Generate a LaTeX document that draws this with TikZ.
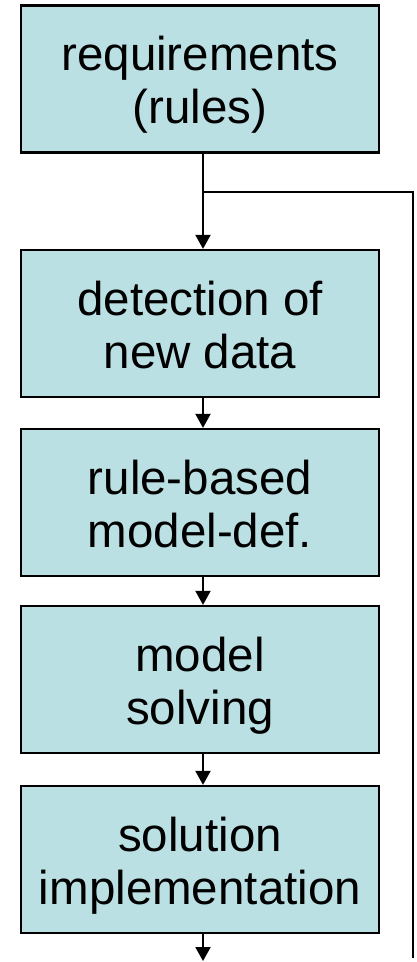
\documentclass[tikz,border=0pt]{standalone}
\usepackage{fontspec}
\setmainfont{Liberation Sans}
\usetikzlibrary{arrows.meta}
\definecolor{boxfill}{RGB}{187,224,227}
% two-line box label with fixed first-line height and last-line depth
\newcommand\twolines[2]{\rule{0pt}{48pt}#1\\#2\rule[-12pt]{0pt}{12pt}}
\begin{document}
\begin{tikzpicture}[x=1pt,y=-1pt,
  stage/.style={draw=black, line width=2.3pt, fill=boxfill, inner sep=0pt,
    minimum width=358pt, minimum height=147pt, align=center,
    font=\fontsize{47.5}{53}\selectfont},
  conn/.style={line width=2pt, draw=black, line join=miter},
  arr/.style={conn, -{Triangle[width=15pt,length=14pt]}}]
\useasboundingbox (0,0) rectangle (416,962);

\node[stage] (req)  at (200,79)    {\twolines{requirements}{(rules)}};
\node[stage] (det)  at (200,323.5) {\twolines{detection of}{new data}};
\node[stage] (rule) at (200,502.5) {\twolines{rule-based}{model-def.}};
\node[stage] (solv) at (200,679.5) {\twolines{model}{solving}};
\node[stage] (impl) at (200,859.5) {\twolines{solution}{implementation}};

% main flow
\draw[arr] ([xshift=3pt]req.south)  -- ([xshift=3pt]det.north);
\draw[arr] ([xshift=3pt]det.south)  -- ([xshift=3pt]rule.north);
\draw[arr] ([xshift=3pt]rule.south) -- ([xshift=3pt]solv.north);
\draw[arr] ([xshift=3pt]solv.south) -- ([xshift=3pt]impl.north);
\coordinate (out) at (203,961);
\draw[arr] ([xshift=3pt]impl.south) -- (out);

% side branch to the right edge
\coordinate (fork) at (203,192);
\coordinate (rtop) at (413,192);
\coordinate (rend) at (413,958);
\draw[conn] (fork) -- (rtop) -- (rend);
\end{tikzpicture}
\end{document}
